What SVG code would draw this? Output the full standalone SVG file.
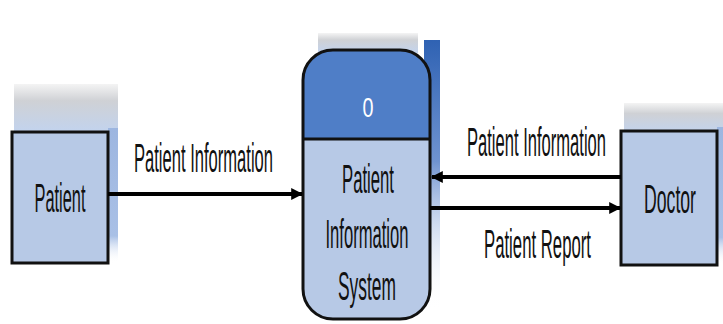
<svg xmlns="http://www.w3.org/2000/svg" width="723" height="324" viewBox="0 0 723 324">
<style>
.lbl{font-family:"Liberation Sans",Arial,sans-serif;font-size:40px;fill:#111;}
.edge{stroke:#000;stroke-width:4;fill:none;}
.front{fill:#b7c9e6;stroke:#111;stroke-width:3;}
</style>
<defs>
<linearGradient id="topG" x1="0" y1="0" x2="0" y2="1">
<stop offset="0" stop-color="#f4f4f4"/>
<stop offset="0.35" stop-color="#cfd1d5"/>
<stop offset="1" stop-color="#c2d3ee"/>
</linearGradient>
<linearGradient id="sideG" x1="0" y1="0" x2="0" y2="1">
<stop offset="0" stop-color="#9db6e0"/>
<stop offset="0.8" stop-color="#a9c0e6"/>
<stop offset="1" stop-color="#ffffff" stop-opacity="0"/>
</linearGradient>
<linearGradient id="pSideG" x1="0" y1="0" x2="0" y2="1">
<stop offset="0" stop-color="#2f62b3"/>
<stop offset="0.45" stop-color="#6f93d0"/>
<stop offset="1" stop-color="#ffffff" stop-opacity="0"/>
</linearGradient>
<clipPath id="pc"><rect x="303" y="50" width="127" height="269" rx="30"/></clipPath>
<marker id="ah" viewBox="0 0 10 10" refX="9" refY="5" markerWidth="3" markerHeight="4" orient="auto" markerUnits="strokeWidth">
<path d="M0,0 L10,5 L0,10 Z" fill="#000"/>
</marker>
</defs>

<g id="patient">
<rect x="14" y="84" width="104" height="48" fill="url(#topG)"/>
<rect x="108" y="128" width="10" height="135" fill="url(#sideG)"/>
<rect class="front" x="12" y="132" width="96" height="131"/>
<text class="lbl" x="60" y="212" text-anchor="middle" font-size="35" textLength="51" lengthAdjust="spacingAndGlyphs">Patient</text>
</g>

<g id="process">
<rect x="318" y="33" width="100" height="20" fill="url(#topG)"/>
<rect x="424" y="40" width="16" height="270" fill="url(#pSideG)"/>
<g clip-path="url(#pc)">
<rect x="303" y="50" width="127" height="269" fill="#b7c9e6"/>
<rect x="303" y="50" width="127" height="89" fill="#4f7ec7"/>
</g>
<rect x="303" y="50" width="127" height="269" rx="30" fill="none" stroke="#111" stroke-width="3"/>
<line x1="303" y1="139" x2="430" y2="139" stroke="#111" stroke-width="3"/>
<text x="368" y="117" text-anchor="middle" font-family="Liberation Sans, Arial, sans-serif" font-size="27" fill="#fff" textLength="11" lengthAdjust="spacingAndGlyphs">0</text>
<text class="lbl" x="368" y="193" text-anchor="middle" textLength="52" lengthAdjust="spacingAndGlyphs">Patient</text>
<text class="lbl" x="367" y="248" text-anchor="middle" textLength="83" lengthAdjust="spacingAndGlyphs">Information</text>
<text class="lbl" x="367" y="300" text-anchor="middle" textLength="58" lengthAdjust="spacingAndGlyphs">System</text>
</g>

<g id="doctor">
<rect x="624" y="103" width="99" height="30" fill="url(#topG)"/>
<rect x="717" y="127" width="6" height="138" fill="url(#sideG)"/>
<rect class="front" x="621" y="131" width="96" height="134"/>
<text class="lbl" x="670" y="213" text-anchor="middle" font-size="42" textLength="52" lengthAdjust="spacingAndGlyphs">Doctor</text>
</g>

<g id="connectors">
<line class="edge" x1="108" y1="194" x2="302" y2="194" marker-end="url(#ah)"/>
<text class="lbl" x="134" y="172" textLength="139" lengthAdjust="spacingAndGlyphs">Patient Information</text>
<line class="edge" x1="621" y1="177" x2="432" y2="177" marker-end="url(#ah)"/>
<text class="lbl" x="467" y="156" font-size="36" textLength="139" lengthAdjust="spacingAndGlyphs">Patient Information</text>
<line class="edge" x1="430" y1="208" x2="620" y2="208" marker-end="url(#ah)"/>
<text class="lbl" x="484" y="258" textLength="107" lengthAdjust="spacingAndGlyphs">Patient Report</text>
</g>
</svg>
